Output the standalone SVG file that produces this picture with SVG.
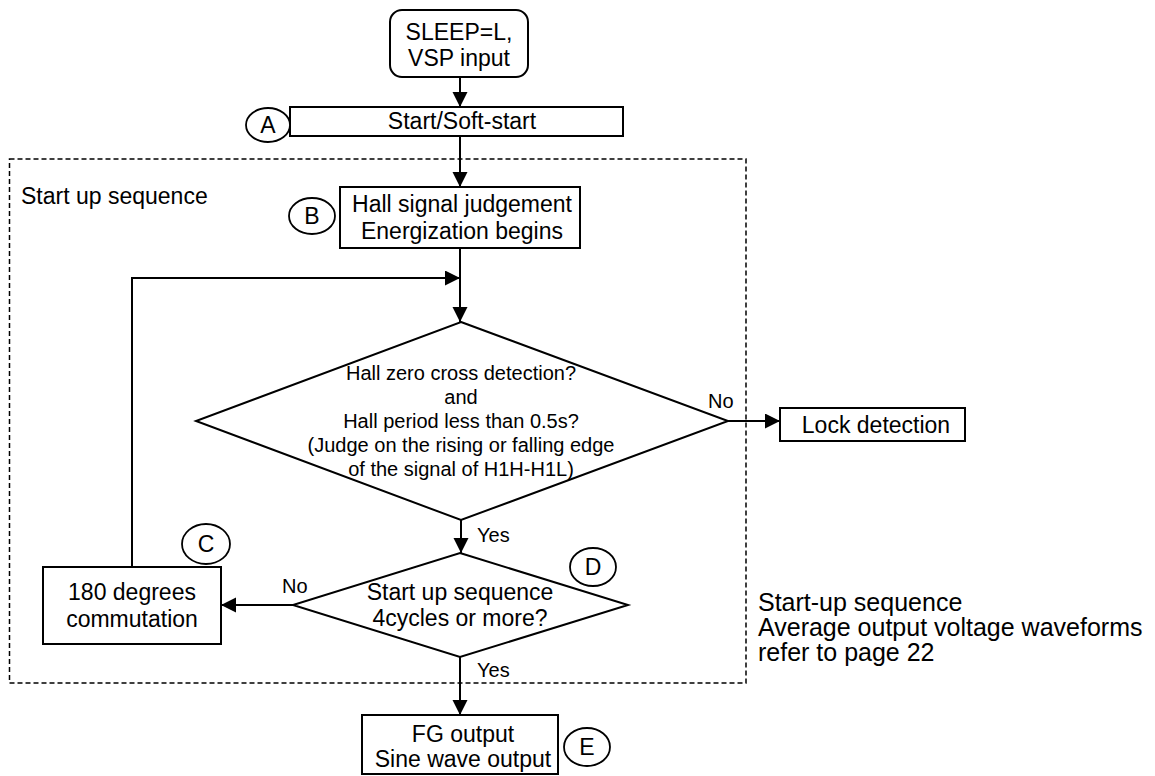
<svg xmlns="http://www.w3.org/2000/svg" width="1155" height="776" viewBox="0 0 1155 776">
  <style>
    .box { fill: #fff; stroke: #000; stroke-width: 2; }
    .circ { fill: #fff; stroke: #000; stroke-width: 1.8; }
    .t { font-family: "Liberation Sans", Arial, sans-serif; font-size: 23px; fill: #000; }
    .tm { text-anchor: middle; }
    .td { font-family: "Liberation Sans", Arial, sans-serif; font-size: 20px; fill: #000; text-anchor: middle; }
    .lbl { font-family: "Liberation Sans", Arial, sans-serif; font-size: 20px; fill: #000; }
    .big { font-family: "Liberation Sans", Arial, sans-serif; font-size: 25px; fill: #000; }
    .conn { fill: none; stroke: #000; stroke-width: 2; }
  </style>
  <defs>
    <marker id="arrow" markerUnits="userSpaceOnUse" markerWidth="16" markerHeight="16" refX="15" refY="7.5" orient="auto" viewBox="0 0 16 16">
      <path d="M0,0 L15,7.5 L0,15 z" fill="#000"/>
    </marker>
  </defs>
  <rect width="1155" height="776" fill="#fff"/>

  <g id="startup-region">
    <rect x="9.5" y="159" width="736.5" height="524" fill="none" stroke="#000" stroke-width="1.5" stroke-dasharray="5,3"/>
    <text class="t" x="21" y="204">Start up sequence</text>
  </g>

  <g id="connectors">
    <path class="conn" d="M460,77 L460,107" marker-end="url(#arrow)"/>
    <path class="conn" d="M460,136 L460,187" marker-end="url(#arrow)"/>
    <path class="conn" d="M460,248 L460,322" marker-end="url(#arrow)"/>
    <path class="conn" d="M132,567 L132,278 L460,278" marker-end="url(#arrow)"/>
    <path class="conn" d="M728,421 L780,421" stroke-width="1.5" marker-end="url(#arrow)"/>
    <path class="conn" d="M461,520 L461,553" marker-end="url(#arrow)"/>
    <path class="conn" d="M293,605 L221,605" marker-end="url(#arrow)"/>
    <path class="conn" d="M460,657 L460,715" marker-end="url(#arrow)"/>
    <text class="lbl" x="708" y="408">No</text>
    <text class="lbl" x="477" y="542">Yes</text>
    <text class="lbl" x="282" y="593">No</text>
    <text class="lbl" x="477" y="677">Yes</text>
  </g>

  <g id="sleep-input">
    <rect class="box" x="390" y="10" width="138" height="67" rx="12" ry="12"/>
    <text class="t tm" x="459" y="40">SLEEP=L,</text>
    <text class="t tm" x="459" y="66">VSP input</text>
  </g>

  <g id="soft-start">
    <rect class="box" x="290" y="107" width="333" height="29"/>
    <text class="t tm" x="462" y="129">Start/Soft-start</text>
  </g>
  <g id="label-a">
    <ellipse class="circ" cx="268" cy="125" rx="22" ry="17"/>
    <text class="t tm" x="268" y="133">A</text>
  </g>

  <g id="hall-judgement">
    <rect class="box" x="340" y="187" width="240" height="61"/>
    <text class="t tm" x="462" y="212">Hall signal judgement</text>
    <text class="t tm" x="462" y="239">Energization begins</text>
  </g>
  <g id="label-b">
    <ellipse class="circ" cx="312" cy="216" rx="23" ry="18"/>
    <text class="t tm" x="312" y="224">B</text>
  </g>

  <g id="hall-decision">
    <polygon class="box" points="461,322 728,421 461,520 196,421"/>
    <text class="td" x="461" y="380">Hall zero cross detection?</text>
    <text class="td" x="461" y="404">and</text>
    <text class="td" x="461" y="428">Hall period less than 0.5s?</text>
    <text class="td" x="461" y="452">(Judge on the rising or falling edge</text>
    <text class="td" x="461" y="476">of the signal of H1H-H1L)</text>
  </g>

  <g id="lock-detection">
    <rect class="box" x="780" y="408" width="185" height="33"/>
    <text class="t tm" x="876" y="433">Lock detection</text>
  </g>

  <g id="commutation">
    <rect class="box" x="43" y="567" width="178" height="77"/>
    <text class="t tm" x="132" y="600">180 degrees</text>
    <text class="t tm" x="132" y="627">commutation</text>
  </g>
  <g id="label-c">
    <ellipse class="circ" cx="206" cy="544" rx="24" ry="20"/>
    <text class="t tm" x="206" y="552">C</text>
  </g>

  <g id="cycles-decision">
    <polygon class="box" points="460,553 628,605 460,657 293,605"/>
    <text class="t tm" x="460" y="600">Start up sequence</text>
    <text class="t tm" x="460" y="626">4cycles or more?</text>
  </g>
  <g id="label-d">
    <ellipse class="circ" cx="593" cy="567" rx="23" ry="19"/>
    <text class="t tm" x="593" y="575">D</text>
  </g>

  <g id="fg-output">
    <rect class="box" x="362" y="715" width="196" height="59"/>
    <text class="t tm" x="463" y="742">FG output</text>
    <text class="t tm" x="463" y="767">Sine wave output</text>
  </g>
  <g id="label-e">
    <ellipse class="circ" cx="587" cy="747" rx="23" ry="19"/>
    <text class="t tm" x="587" y="755">E</text>
  </g>

  <g id="note">
    <text class="big" x="758" y="611">Start-up sequence</text>
    <text class="big" x="758" y="636">Average output voltage waveforms</text>
    <text class="big" x="758" y="661">refer to page 22</text>
  </g>
</svg>
